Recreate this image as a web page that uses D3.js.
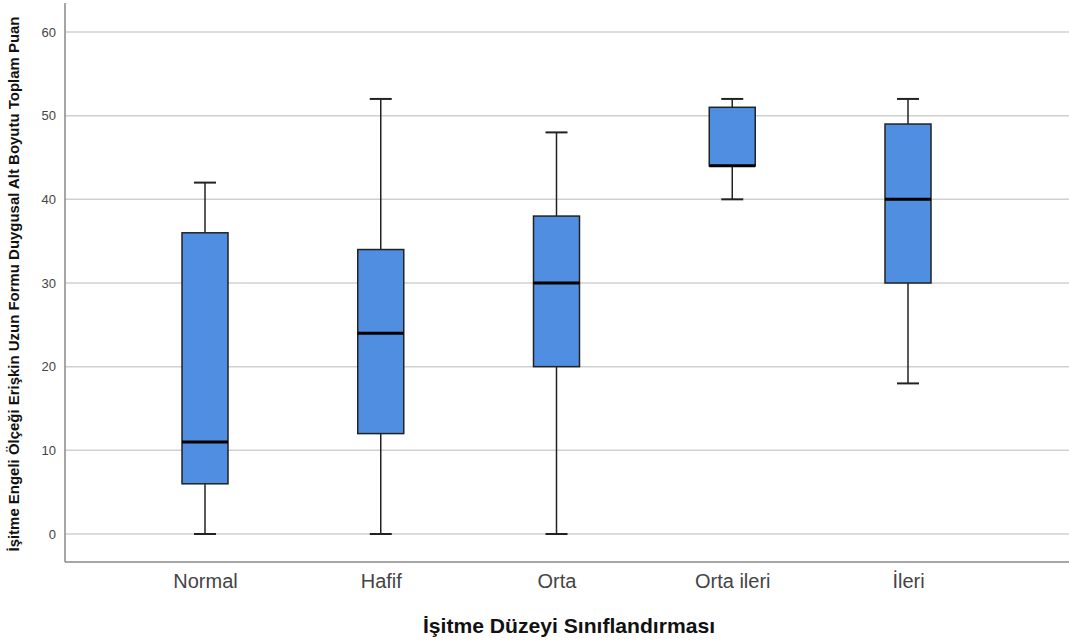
<!DOCTYPE html>
<html>
<head>
<meta charset="utf-8">
<script src="https://cdn.jsdelivr.net/npm/d3@7"></script>
<style>
  body { margin: 0; background: #fff; }
  svg { display: block; font-family: Arial, "Liberation Sans", sans-serif; }
</style>
</head>
<body>
<svg id="chart" width="1069" height="641"></svg>
<script>
// categories and five-number summaries
const categories = ["Normal", "Hafif", "Orta", "Orta ileri", "İleri"];
const mins    = [0, 0, 0, 40, 18];
const q1s     = [6, 12, 20, 44, 30];
const medians = [11, 24, 30, 44, 40];
const q3s     = [36, 34, 38, 51, 49];
const maxs    = [42, 52, 48, 52, 52];
const yTicks  = [0, 10, 20, 30, 40, 50, 60];

const yTitle = "İşitme Engeli Ölçeği Erişkin Uzun Formu Duygusal Alt Boyutu Toplam Puan";
const xTitle = "İşitme Düzeyi Sınıflandırması";

const svg = d3.select("#chart");
const plot = { left: 65, right: 1069, top: 3, bottom: 562 };

const data = categories.map((c, i) => ({
  cat: c, min: mins[i], q1: q1s[i], med: medians[i], q3: q3s[i], max: maxs[i]
}));

const x = d3.scalePoint().domain(categories).range([205, 908]);
const y = d3.scaleLinear().domain([0, 60]).range([534, 32]);

const boxW = 46, capW = 22;

// gridlines
svg.append("g").selectAll("line").data(yTicks).join("line")
  .attr("x1", plot.left).attr("x2", plot.right)
  .attr("y1", d => y(d)).attr("y2", d => y(d))
  .attr("stroke", "#d0d0d0").attr("stroke-width", 1.5);

// y axis
const yAxis = svg.append("g")
  .attr("transform", `translate(${plot.left},0)`)
  .call(d3.axisLeft(y).tickValues(yTicks).tickSize(0).tickPadding(9));
yAxis.select(".domain").remove();
yAxis.selectAll("text").attr("font-size", 13).attr("fill", "#444");

// axis lines
svg.append("line")
  .attr("x1", plot.left).attr("x2", plot.left)
  .attr("y1", plot.top).attr("y2", plot.bottom)
  .attr("stroke", "#888").attr("stroke-width", 1.5);
svg.append("line")
  .attr("x1", plot.left).attr("x2", plot.right)
  .attr("y1", plot.bottom).attr("y2", plot.bottom)
  .attr("stroke", "#888").attr("stroke-width", 1.5);

// x axis labels
const xAxis = svg.append("g")
  .attr("transform", `translate(0,${plot.bottom})`)
  .call(d3.axisBottom(x).tickSize(0).tickPadding(12));
xAxis.select(".domain").remove();
xAxis.selectAll("text").attr("font-size", 20).attr("fill", "#444");

// boxes
const g = svg.append("g").selectAll("g").data(data).join("g");

g.append("line")
  .attr("x1", d => x(d.cat)).attr("x2", d => x(d.cat))
  .attr("y1", d => y(d.max)).attr("y2", d => y(d.q3))
  .attr("stroke", "#222").attr("stroke-width", 1.5);
g.append("line")
  .attr("x1", d => x(d.cat)).attr("x2", d => x(d.cat))
  .attr("y1", d => y(d.q1)).attr("y2", d => y(d.min))
  .attr("stroke", "#222").attr("stroke-width", 1.5);
g.selectAll(".cap").data(d => [d, d].map((v, k) => ({ cat: v.cat, val: k ? v.min : v.max })))
  .join("line").attr("class", "cap")
  .attr("x1", d => x(d.cat) - capW / 2).attr("x2", d => x(d.cat) + capW / 2)
  .attr("y1", d => y(d.val)).attr("y2", d => y(d.val))
  .attr("stroke", "#222").attr("stroke-width", 2);

g.append("rect")
  .attr("x", d => x(d.cat) - boxW / 2).attr("width", boxW)
  .attr("y", d => y(d.q3)).attr("height", d => y(d.q1) - y(d.q3))
  .attr("fill", "#4f8ee0").attr("stroke", "#222").attr("stroke-width", 1.5);

g.append("line")
  .attr("x1", d => x(d.cat) - boxW / 2).attr("x2", d => x(d.cat) + boxW / 2)
  .attr("y1", d => y(d.med)).attr("y2", d => y(d.med))
  .attr("stroke", "#000").attr("stroke-width", 3);

// titles
svg.append("text")
  .attr("transform", "translate(19,284) rotate(-90)")
  .attr("text-anchor", "middle").attr("font-size", 14).attr("font-weight", "bold")
  .attr("textLength", 535).attr("lengthAdjust", "spacingAndGlyphs")
  .attr("fill", "#111").text(yTitle);

svg.append("text")
  .attr("x", 569).attr("y", 633)
  .attr("text-anchor", "middle").attr("font-size", 21).attr("font-weight", "bold")
  .attr("textLength", 292).attr("lengthAdjust", "spacingAndGlyphs")
  .attr("fill", "#111").text(xTitle);
</script>
</body>
</html>
